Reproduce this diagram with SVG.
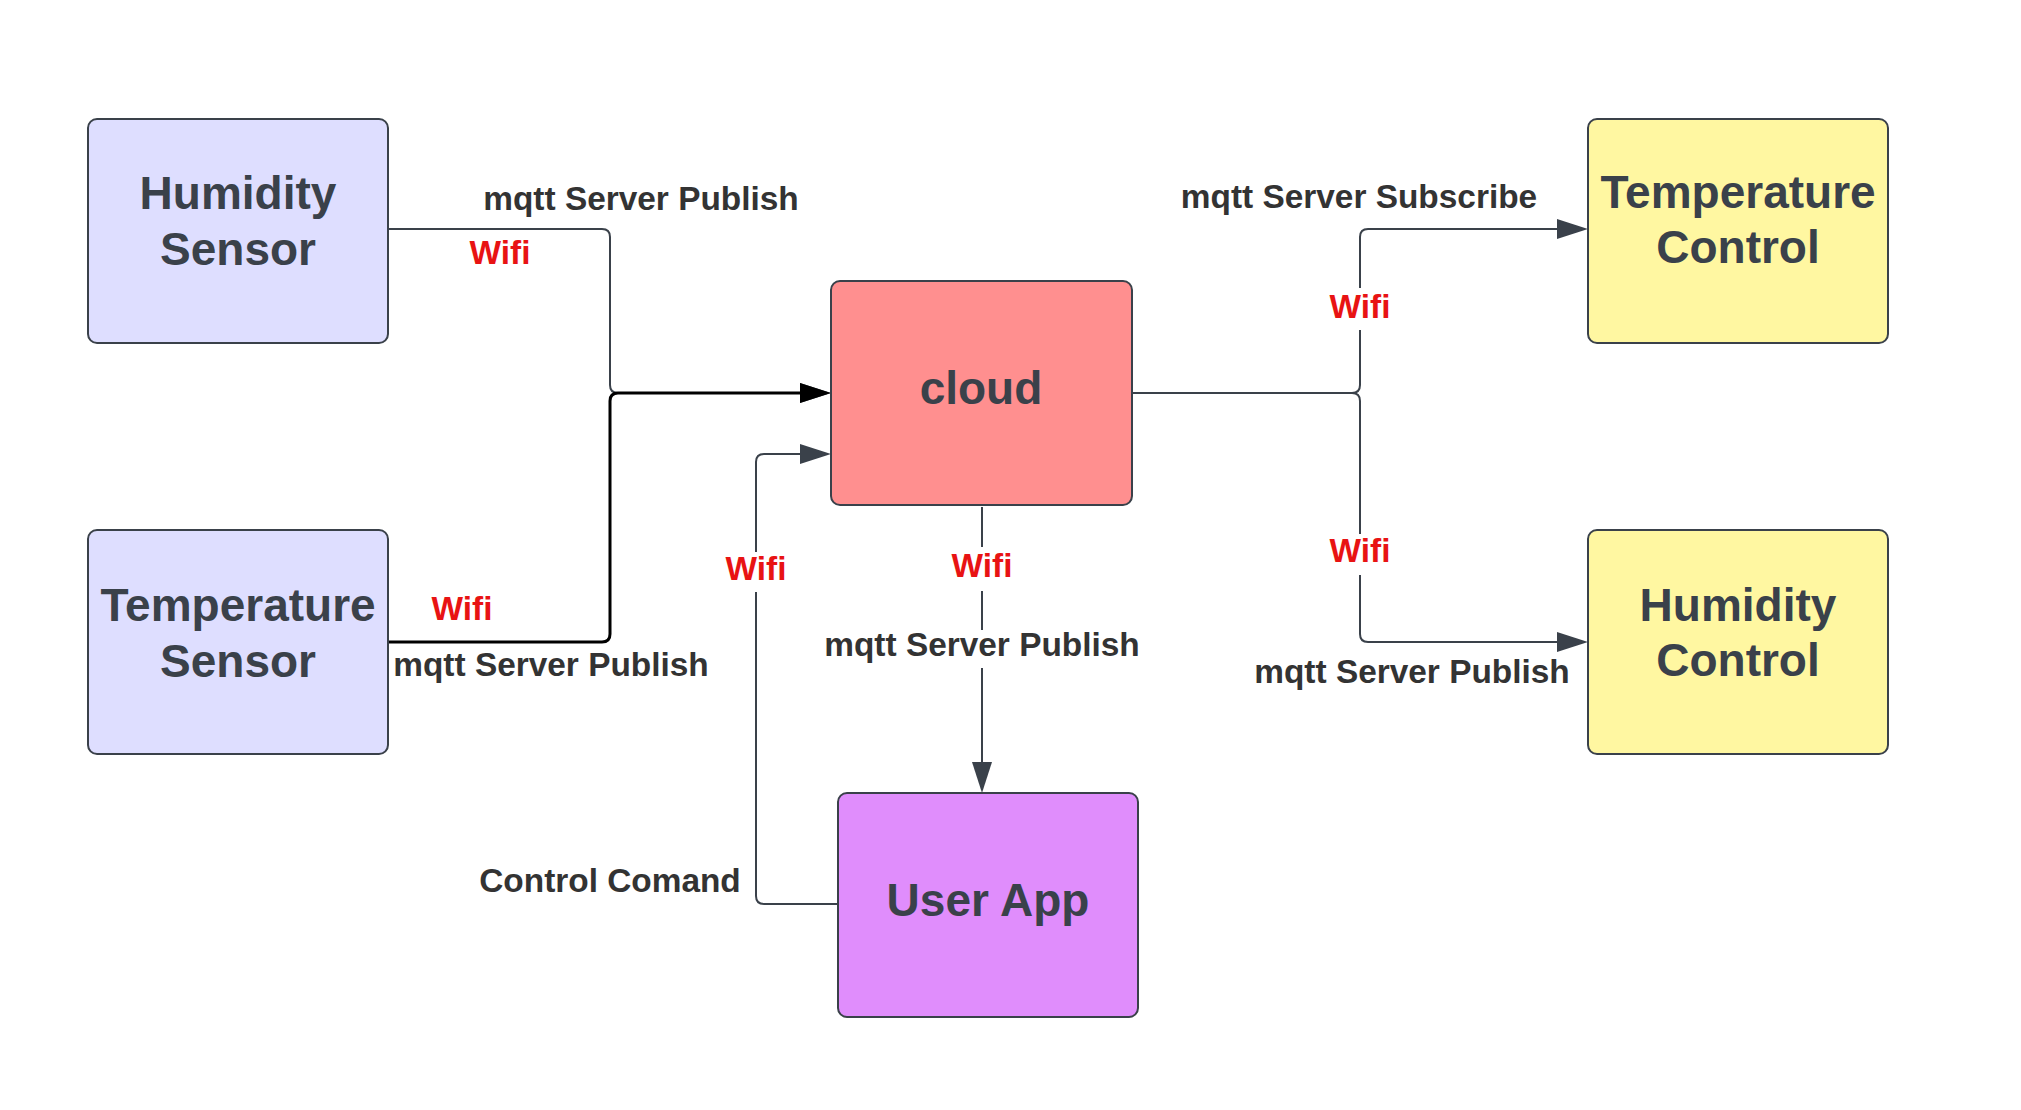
<svg xmlns="http://www.w3.org/2000/svg" width="2021" height="1110" viewBox="0 0 2021 1110">
  <style>
    .node { stroke: #3a414a; stroke-width: 2; }
    .ntext { font-family: "Liberation Sans", Arial, sans-serif; font-weight: bold; font-size: 46px; fill: #3a414a; text-anchor: middle; }
    .label { font-family: "Liberation Sans", Arial, sans-serif; font-weight: bold; font-size: 33.4px; fill: #333333; text-anchor: middle; }
    .wifi { font-family: "Liberation Sans", Arial, sans-serif; font-weight: bold; font-size: 33.4px; fill: #e81313; text-anchor: middle; }
    .link { fill: none; stroke: #3a414a; stroke-width: 2; }
    .link-dark { fill: none; stroke: #000000; stroke-width: 3; }
    .gap { fill: #ffffff; }
  </style>
  <defs>
    <marker id="arrow" markerUnits="userSpaceOnUse" markerWidth="32" markerHeight="22" refX="0" refY="10" orient="auto" overflow="visible">
      <path d="M0,0 L31,10 L0,20 Z" fill="#3a414a"/>
    </marker>
    <marker id="arrow-dark" markerUnits="userSpaceOnUse" markerWidth="32" markerHeight="22" refX="0" refY="10" orient="auto" overflow="visible">
      <path d="M0,0 L31,10 L0,20 Z" fill="#000000"/>
    </marker>
  </defs>

  <rect width="2021" height="1110" fill="#ffffff"/>

  <!-- connectors -->
  <g id="connectors">
    <!-- Humidity Sensor to cloud -->
    <path class="link" d="M388,229 H602 Q610,229 610,237 V385 Q610,393 618,393 H800" marker-end="url(#arrow)"/>
    <!-- Temperature Sensor to cloud -->
    <path class="link-dark" d="M388,642 H602 Q610,642 610,634 V401 Q610,393 618,393 H800" marker-end="url(#arrow-dark)"/>
    <!-- User App control command to cloud -->
    <path class="link" d="M838,904 H764 Q756,904 756,896 V462 Q756,454 764,454 H800" marker-end="url(#arrow)"/>
    <!-- cloud to User App -->
    <path class="link" d="M982,507 V762" marker-end="url(#arrow)"/>
    <!-- cloud to Temperature Control -->
    <path class="link" d="M1132,393 H1352 Q1360,393 1360,385 V237 Q1360,229 1368,229 H1557" marker-end="url(#arrow)"/>
    <!-- cloud to Humidity Control -->
    <path class="link" d="M1132,393 H1352 Q1360,393 1360,401 V634 Q1360,642 1368,642 H1557" marker-end="url(#arrow)"/>

    <!-- label backgrounds breaking the lines -->
    <rect class="gap" x="728" y="552" width="56" height="40"/>
    <rect class="gap" x="954" y="547" width="56" height="44"/>
    <rect class="gap" x="818" y="630" width="328" height="38"/>
    <rect class="gap" x="1332" y="288" width="56" height="42"/>
    <rect class="gap" x="1332" y="534" width="56" height="41"/>

    <!-- connector labels -->
    <text class="label" x="641" y="210">mqtt Server Publish</text>
    <text class="wifi" x="500" y="264">Wifi</text>
    <text class="wifi" x="462" y="620">Wifi</text>
    <text class="label" x="551" y="676">mqtt Server Publish</text>
    <text class="wifi" x="756" y="580">Wifi</text>
    <text class="label" x="610" y="892">Control Comand</text>
    <text class="wifi" x="982" y="577">Wifi</text>
    <text class="label" x="982" y="656">mqtt Server Publish</text>
    <text class="label" x="1359" y="208">mqtt Server Subscribe</text>
    <text class="wifi" x="1360" y="318">Wifi</text>
    <text class="wifi" x="1360" y="562">Wifi</text>
    <text class="label" x="1412" y="683">mqtt Server Publish</text>
  </g>

  <g id="humidity-sensor">
    <rect class="node" x="88" y="119" width="300" height="224" rx="9" fill="#dedeff"/>
    <text class="ntext" x="238" y="209">Humidity</text>
    <text class="ntext" x="238" y="265">Sensor</text>
  </g>

  <g id="temperature-sensor">
    <rect class="node" x="88" y="530" width="300" height="224" rx="9" fill="#dedeff"/>
    <text class="ntext" x="238" y="621">Temperature</text>
    <text class="ntext" x="238" y="677">Sensor</text>
  </g>

  <g id="cloud">
    <rect class="node" x="831" y="281" width="301" height="224" rx="9" fill="#ff8f8f"/>
    <text class="ntext" x="981" y="404">cloud</text>
  </g>

  <g id="temperature-control">
    <rect class="node" x="1588" y="119" width="300" height="224" rx="9" fill="#fff7a1"/>
    <text class="ntext" x="1738" y="208">Temperature</text>
    <text class="ntext" x="1738" y="263">Control</text>
  </g>

  <g id="humidity-control">
    <rect class="node" x="1588" y="530" width="300" height="224" rx="9" fill="#fff7a1"/>
    <text class="ntext" x="1738" y="621">Humidity</text>
    <text class="ntext" x="1738" y="676">Control</text>
  </g>

  <g id="user-app">
    <rect class="node" x="838" y="793" width="300" height="224" rx="9" fill="#e08dfc"/>
    <text class="ntext" x="988" y="916">User App</text>
  </g>
</svg>
